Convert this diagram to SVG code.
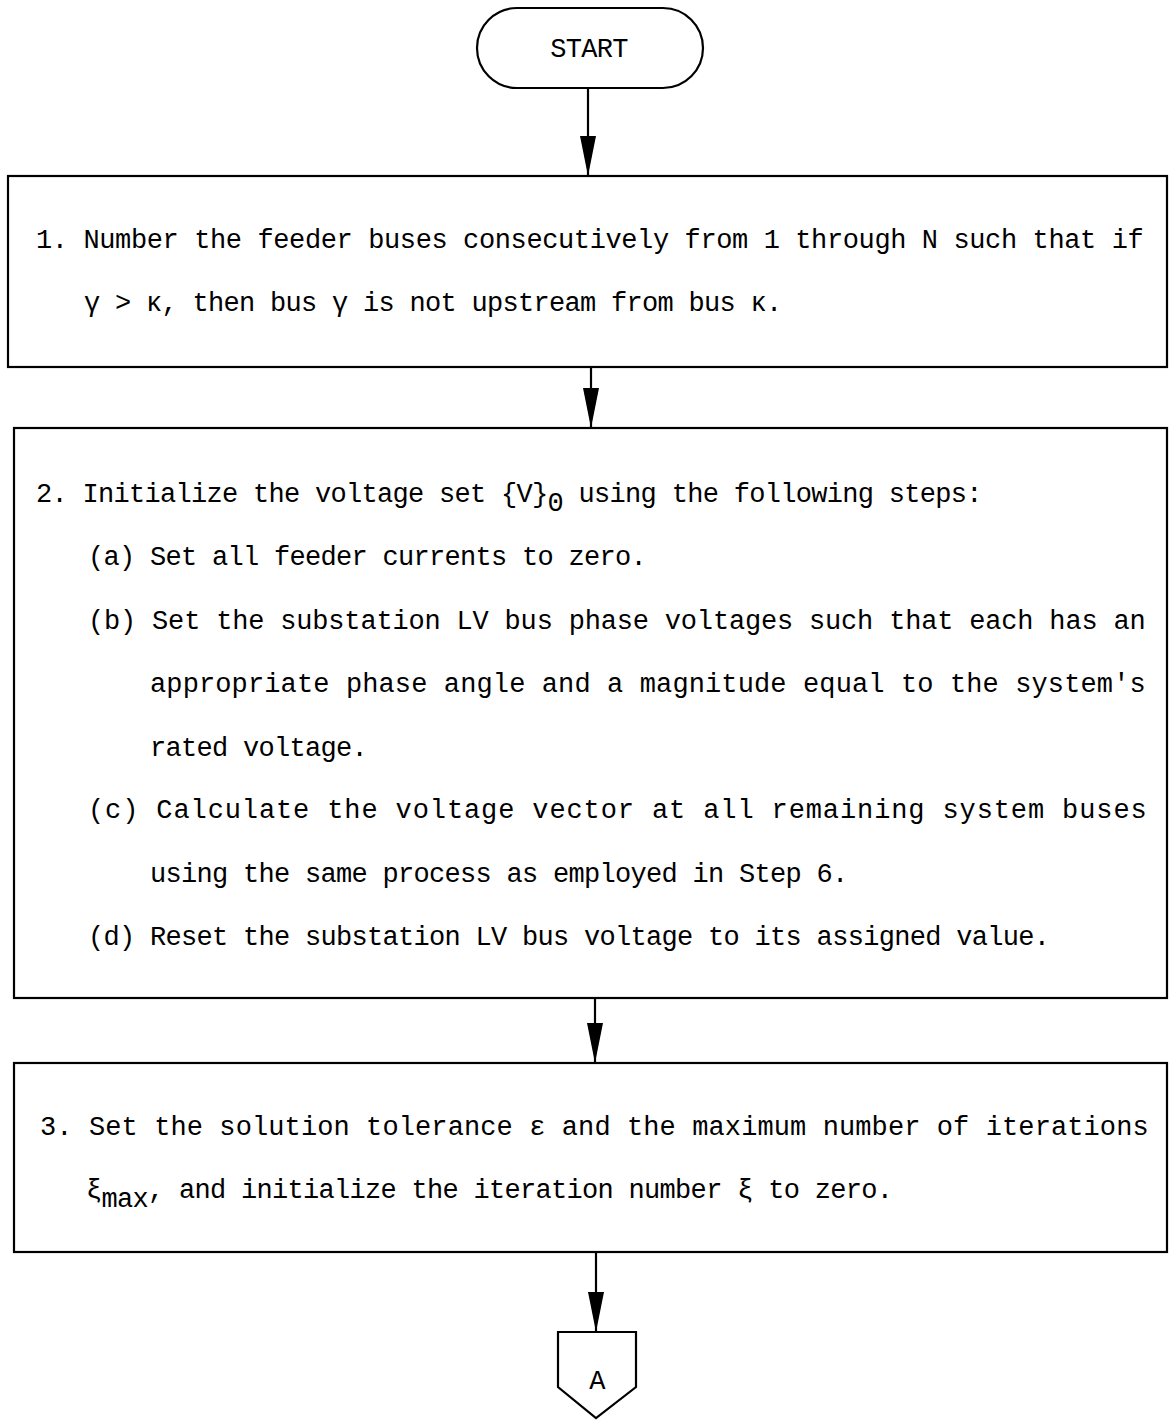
<svg xmlns="http://www.w3.org/2000/svg" width="1169" height="1420" viewBox="0 0 1169 1420">
<defs>
<style>
.box{fill:#fff;stroke:#000;stroke-width:2.2}
.t{font-family:"Liberation Mono","DejaVu Sans Mono",monospace;font-size:27px;letter-spacing:-0.7px;fill:#000}
.c{stroke:#000;stroke-width:2.2;fill:none}
</style>
<marker id="ah" markerUnits="userSpaceOnUse" markerWidth="42" markerHeight="18" refX="40" refY="8" orient="auto">
<path d="M0,0 L40,8 L0,16 z" fill="#000"/>
</marker>
</defs>
<rect width="1169" height="1420" fill="#fff"/>
<g id="connectors">
<line class="c" x1="588" y1="88" x2="588" y2="176" marker-end="url(#ah)"/>
<line class="c" x1="591" y1="367" x2="591" y2="428" marker-end="url(#ah)"/>
<line class="c" x1="595" y1="998" x2="595" y2="1063" marker-end="url(#ah)"/>
<line class="c" x1="596" y1="1252" x2="596" y2="1332" marker-end="url(#ah)"/>
</g>
<g id="start">
<rect class="box" x="477" y="8" width="226" height="80" rx="40" ry="40"/>
<text class="t" x="589" y="57" text-anchor="middle">START</text>
</g>
<g id="step1">
<rect class="box" x="8" y="176" width="1159" height="191"/>
<text class="t" x="36" y="248" textLength="1107" lengthAdjust="spacing">1. Number the feeder buses consecutively from 1 through N such that if</text>
<text class="t" x="84" y="311">γ &gt; κ, then bus γ is not upstream from bus κ.</text>
</g>
<g id="step2">
<rect class="box" x="14" y="428" width="1153" height="570"/>
<text class="t" x="36" y="502">2. Initialize the voltage set {V}<tspan dy="9">0</tspan><tspan dy="-9"> using the following steps:</tspan></text>
<text class="t" x="88" y="565">(a) Set all feeder currents to zero.</text>
<text class="t" x="88" y="629" textLength="1057" lengthAdjust="spacing">(b) Set the substation LV bus phase voltages such that each has an</text>
<text class="t" x="150" y="692" textLength="995" lengthAdjust="spacing">appropriate phase angle and a magnitude equal to the system's</text>
<text class="t" x="150" y="756">rated voltage.</text>
<text class="t" x="88" y="818" textLength="1058" lengthAdjust="spacing">(c) Calculate the voltage vector at all remaining system buses</text>
<text class="t" x="150" y="882">using the same process as employed in Step 6.</text>
<text class="t" x="88" y="945">(d) Reset the substation LV bus voltage to its assigned value.</text>
</g>
<g id="step3">
<rect class="box" x="14" y="1063" width="1153" height="189"/>
<text class="t" x="40" y="1135" textLength="1108" lengthAdjust="spacing">3. Set the solution tolerance ε and the maximum number of iterations</text>
<text class="t" x="86" y="1198">ξ<tspan dy="9">max</tspan><tspan dy="-9">, and initialize the iteration number ξ to zero.</tspan></text>
</g>
<g id="connectorA">
<polygon class="box" points="558,1332 636,1332 636,1387 596,1418 558,1387"/>
<text class="t" x="597" y="1389" text-anchor="middle">A</text>
</g>
</svg>
